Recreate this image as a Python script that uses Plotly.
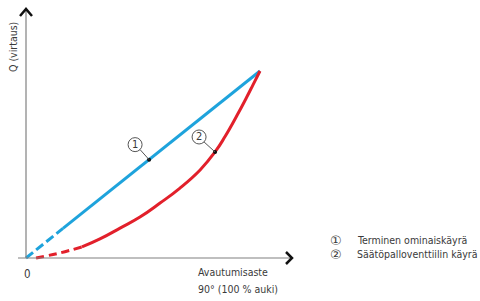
import plotly.graph_objects as go

# ---- data (opening % vs flow %) ----
linear_opening = [0, 15.8, 100]
linear_flow = [0, 15.8, 100]
linear_dashed_until = 1  # index where dashed part ends

ball_opening = [4.3, 14.5, 23.9, 31.6, 40.2, 48.7, 57.3, 65.8, 74.4, 80.8, 85.0, 90.2, 94.4, 97.0, 98.7, 100]
ball_flow = [0, 2.7, 5.9, 10.2, 16.0, 21.9, 29.4, 37.4, 47.1, 56.7, 64.8, 76.3, 86.2, 92.6, 96.8, 100]
ball_dashed_until = 2
ball_callout_index = 9

callout_labels = ["1", "2"]
legend_texts = ["Terminen ominaiskäyrä", "Säätöpalloventtiilin käyrä"]
axis_y_label = "Q (virtaus)"
axis_x_label = ["Avautumisaste", "90° (100 % auki)"]
origin_label = "0"

BLUE = "#1ea3dc"
RED = "#e2202b"
AXIS = "#808080"
TXT = "#3a3a3a"
FONT = "DejaVu Sans Condensed, Liberation Sans Narrow, Arial Narrow, Liberation Sans, Arial"

W, H = 480, 301
OX, OY = 26, 258          # pixel of origin
SX, SY = 2.34, 1.87       # pixels per data unit

def px2x(px):
    return (px - OX) / SX

def py2y(py):
    return (OY - py) / SY

fig = go.Figure()

# blue linear characteristic
fig.add_trace(go.Scatter(x=linear_opening[:linear_dashed_until + 1], y=linear_flow[:linear_dashed_until + 1],
                         mode="lines", line=dict(color=BLUE, width=3, dash="9px,4px"), hoverinfo="skip"))
fig.add_trace(go.Scatter(x=linear_opening[linear_dashed_until:], y=linear_flow[linear_dashed_until:],
                         mode="lines", line=dict(color=BLUE, width=3), hoverinfo="skip"))
# red ball valve curve
fig.add_trace(go.Scatter(x=ball_opening[:ball_dashed_until + 1], y=ball_flow[:ball_dashed_until + 1],
                         mode="lines", line=dict(color=RED, width=3, dash="8px,5px", shape="spline"), hoverinfo="skip"))
fig.add_trace(go.Scatter(x=ball_opening[ball_dashed_until:], y=ball_flow[ball_dashed_until:],
                         mode="lines", line=dict(color=RED, width=3, shape="spline", smoothing=1.3), hoverinfo="skip"))

# callout dots on the curves
dot_x = [52.6, ball_opening[ball_callout_index]]
dot_y = [52.6, ball_flow[ball_callout_index]]
fig.add_trace(go.Scatter(x=dot_x, y=dot_y, mode="markers",
                         marker=dict(color="#111", size=4), hoverinfo="skip"))

shapes = []
annotations = []

# callout circles + leaders (pixel offsets relative to dots)
circle_offsets = [(-14, 15), (-16, 15)]
for (dx, dy), lab, xd, yd in zip(circle_offsets, callout_labels, dot_x, dot_y):
    cx = xd + dx / SX
    cy = yd + dy / SY
    shapes.append(dict(type="circle", xref="x", yref="y", xsizemode="pixel", ysizemode="pixel",
                       xanchor=cx, yanchor=cy, x0=-7, x1=7, y0=-7, y1=7,
                       line=dict(color="#555", width=1), fillcolor="white"))
    shapes.append(dict(type="line", xref="x", yref="y",
                       x0=cx + 5 / SX, y0=cy - 5 / SY, x1=xd, y1=yd,
                       line=dict(color="#555", width=1)))
    annotations.append(dict(x=cx, y=cy, xref="x", yref="y", text=lab, showarrow=False,
                            xanchor="center", yanchor="middle",
                            font=dict(family=FONT, size=11, color=TXT)))

# axes
shapes.append(dict(type="line", xref="x", yref="y", x0=0, y0=0, x1=0, y1=py2y(10),
                   line=dict(color=AXIS, width=1.2)))
shapes.append(dict(type="line", xref="x", yref="y", x0=px2x(18), y0=0, x1=px2x(291), y1=0,
                   line=dict(color=AXIS, width=1.2)))
# arrow heads (chevrons)
shapes.append(dict(type="path", xref="x", yref="y",
                   path=f"M {px2x(286)} {py2y(252)} L {px2x(292)} {py2y(258)} L {px2x(286)} {py2y(264)}",
                   line=dict(color="#111", width=2.5)))
shapes.append(dict(type="path", xref="x", yref="y",
                   path=f"M {px2x(20)} {py2y(16)} L {px2x(26)} {py2y(9)} L {px2x(32)} {py2y(16)}",
                   line=dict(color="#111", width=2.5)))

def ann(xp, yp, text, size=12, xanchor="left", **kw):
    annotations.append(dict(x=xp / W, y=1 - yp / H, xref="paper", yref="paper", text=text,
                            xanchor=xanchor, yanchor="middle", showarrow=False,
                            font=dict(family=kw.pop("family", FONT), size=size, color=TXT), **kw))

# axis labels
ann(13, 47, axis_y_label, size=10.5, xanchor="center", textangle=-90)
ann(27, 274, origin_label, size=11.5, xanchor="center")
ann(196, 272, axis_x_label[0], size=10.5)
ann(196, 289, axis_x_label[1], size=10.5)

# legend (text)
circ_chars = ["①", "②"]
for i, (c, t) in enumerate(zip(circ_chars, legend_texts)):
    yp = 240 + 14 * i
    ann(336, yp, c, size=13, xanchor="center", family="DejaVu Sans")
    ann(355, yp, t, size=10.5)

fig.update_layout(
    width=W, height=H, margin=dict(l=0, r=0, t=0, b=0),
    paper_bgcolor="white", plot_bgcolor="white", showlegend=False,
    xaxis=dict(range=[px2x(0), px2x(W)], visible=False, fixedrange=True),
    yaxis=dict(range=[py2y(H), py2y(0)], visible=False, fixedrange=True),
    shapes=shapes, annotations=annotations,
)

fig.write_html("out.html")
